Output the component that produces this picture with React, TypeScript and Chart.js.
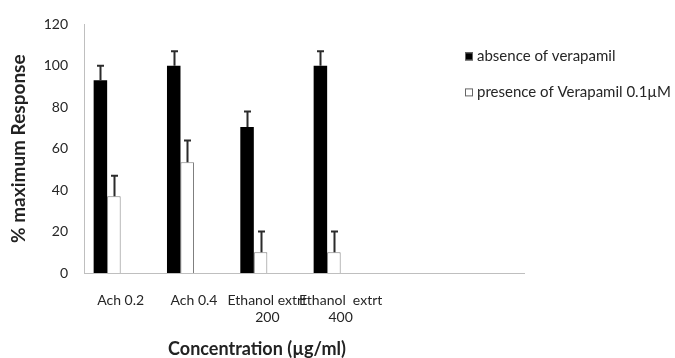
import React, { useEffect, useRef } from "react";
import { Chart, registerables } from "chart.js";

Chart.register(...registerables);

const categories: (string | string[])[] = [
  "Ach 0.2",
  "Ach 0.4",
  ["Ethanol extrt", "200"],
  ["Ethanol  extrt", "400"],
  "",
  "",
];
const absenceValues = [93, 100, 70.5, 100, null, null];
const absenceErrors = [7, 7, 7.5, 7, 0, 0];
const presenceValues = [37, 53.5, 10, 10, null, null];
const presenceErrors = [10, 10.5, 10, 10, 0, 0];
const emptyValues = [null, null, null, null, null, null];
const yTicks = [0, 20, 40, 60, 80, 100, 120];
const legendLabels = ["absence of verapamil", "presence of Verapamil 0.1\u00b5M"];
const xTitle = "Concentration (\u00b5g/ml)";
const yTitle = "% maximum Response";

const FONT = "Lato, 'Open Sans', sans-serif";

const errorBarPlugin = {
  id: "errorBars",
  afterDatasetsDraw(chart: any) {
    const ctx = chart.ctx;
    const yScale = chart.scales.y;
    chart.data.datasets.forEach((ds: any, i: number) => {
      if (!ds.errors) return;
      const meta = chart.getDatasetMeta(i);
      meta.data.forEach((el: any, j: number) => {
        const v = ds.data[j];
        const e = ds.errors[j];
        if (v == null || !e) return;
        const x = Math.round(el.x) + 0.5;
        const yTop = yScale.getPixelForValue(v + e);
        const yBase = yScale.getPixelForValue(v);
        ctx.save();
        ctx.strokeStyle = "#2b2b2b";
        ctx.lineWidth = 2;
        ctx.beginPath();
        ctx.moveTo(x, yBase);
        ctx.lineTo(x, yTop);
        ctx.moveTo(x - 3.5, yTop);
        ctx.lineTo(x + 3.5, yTop);
        ctx.stroke();
        ctx.restore();
      });
    });
  },
};

const annotationPlugin = {
  id: "customLegendAndTitle",
  afterDraw(chart: any) {
    const ctx = chart.ctx;
    const area = chart.chartArea;
    const x0 = area.right - 59;
    const ys = [area.top + 32, area.top + 68];
    ctx.save();
    ctx.font = `15px ${FONT}`;
    ctx.textBaseline = "middle";
    ctx.textAlign = "left";
    legendLabels.forEach((label, i) => {
      const ds = chart.data.datasets[i];
      const y = ys[i];
      ctx.fillStyle = ds.backgroundColor;
      ctx.fillRect(x0, y - 4, 8, 8);
      ctx.strokeStyle = "#666666";
      ctx.lineWidth = 1;
      ctx.strokeRect(x0 + 0.5, y - 3.5, 7, 7);
      ctx.fillStyle = "#262626";
      ctx.fillText(label, x0 + 12, y);
    });
    // x axis title
    ctx.font = `bold 18px ${FONT}`;
    ctx.fillStyle = "#222222";
    ctx.textAlign = "center";
    ctx.textBaseline = "middle";
    ctx.fillText(xTitle, area.left + 173, chart.height - 9);
    ctx.restore();
  },
};

export default function App() {
  const ref = useRef<HTMLCanvasElement>(null);

  useEffect(() => {
    if (!ref.current) return;
    const chart = new Chart(ref.current, {
      type: "bar",
      data: {
        labels: categories,
        datasets: [
          {
            label: legendLabels[0],
            data: absenceValues,
            errors: absenceErrors,
            backgroundColor: "#000000",
            borderColor: "#000000",
            borderWidth: 0,
          } as any,
          {
            label: legendLabels[1],
            data: presenceValues,
            errors: presenceErrors,
            backgroundColor: "#ffffff",
            borderColor: "#7f7f7f",
            borderWidth: 1,
          } as any,
          { label: "", data: emptyValues, backgroundColor: "#ffffff" },
          { label: "", data: emptyValues, backgroundColor: "#ffffff" },
        ],
      },
      options: {
        animation: false,
        responsive: false,
        devicePixelRatio: 1,
        layout: { padding: { left: 0, right: 151, top: 21, bottom: 0 } },
        datasets: {
          bar: { categoryPercentage: 0.737, barPercentage: 1 },
        },
        plugins: {
          legend: { display: false },
          tooltip: { enabled: false },
        },
        scales: {
          x: {
            grid: { display: false, drawTicks: false },
            border: { display: true, color: "#bfbfbf", width: 1 },
            ticks: {
              autoSkip: false,
              maxRotation: 0,
              minRotation: 0,
              padding: 19,
              color: "#262626",
              font: { family: FONT, size: 14 },
            },
            title: { display: false },
            afterFit(scale: any) {
              scale.height = 85;
            },
          },
          y: {
            min: 0,
            max: 120,
            afterBuildTicks(scale: any) {
              scale.ticks = yTicks.map((v) => ({ value: v }));
            },
            grid: { display: false, drawTicks: false },
            border: { display: true, color: "#bfbfbf", width: 1 },
            ticks: {
              padding: 16,
              color: "#262626",
              font: { family: FONT, size: 14 },
            },
            title: {
              display: true,
              text: yTitle,
              color: "#222222",
              font: { family: FONT, size: 19, weight: "bold" },
              padding: { top: 7, bottom: 0 },
            },
            afterFit(scale: any) {
              scale.width = 84;
            },
          },
        },
      },
      plugins: [errorBarPlugin, annotationPlugin],
    });
    return () => chart.destroy();
  }, []);

  return (
    <div style={{ position: "fixed", left: 0, top: 0, width: 675, height: 358, background: "#ffffff" }}>
      <canvas ref={ref} width={675} height={358} />
    </div>
  );
}
